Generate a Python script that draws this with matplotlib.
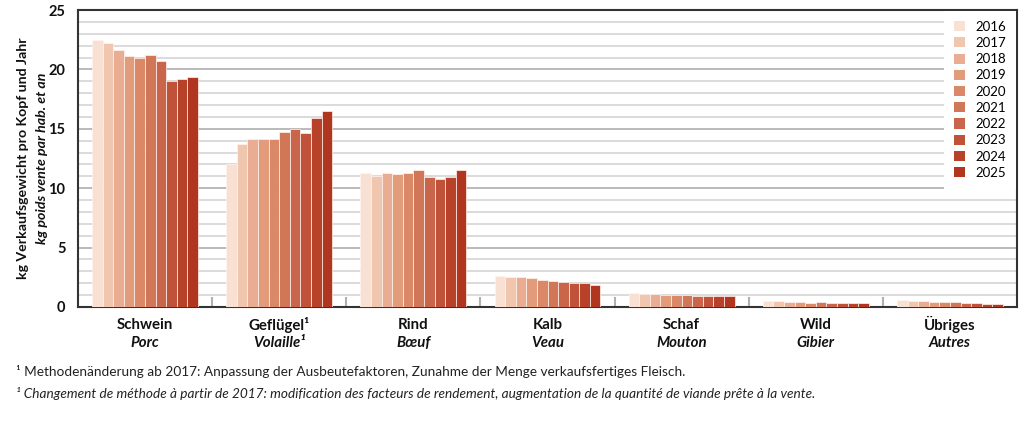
import matplotlib
matplotlib.use("Agg")
import matplotlib.pyplot as plt
from matplotlib.patches import Patch
from matplotlib.ticker import MultipleLocator, FixedLocator
import numpy as np

plt.rcParams['font.family'] = ['Lato', 'DejaVu Sans']

categories_de = ["Schwein", "Geflügel¹", "Rind", "Kalb", "Schaf", "Wild", "Übriges"]
categories_fr = ["Porc", "Volaille¹", "Bœuf", "Veau", "Mouton", "Gibier", "Autres"]
years = ["2016", "2017", "2018", "2019", "2020", "2021", "2022", "2023", "2024", "2025"]

schwein = [22.45, 22.25, 21.6, 21.1, 21.0, 21.2, 20.7, 19.0, 19.2, 19.4]
gefluegel = [12.0, 13.7, 14.15, 14.15, 14.15, 14.75, 15.0, 14.65, 15.9, 16.5]
rind = [11.25, 11.05, 11.3, 11.2, 11.3, 11.55, 10.95, 10.75, 10.95, 11.55]
kalb = [2.65, 2.5, 2.5, 2.4, 2.25, 2.17, 2.1, 2.05, 2.0, 1.85]
schaf = [1.15, 1.13, 1.1, 1.02, 1.04, 1.0, 0.92, 0.92, 0.9, 0.94]
wild = [0.48, 0.5, 0.42, 0.42, 0.37, 0.4, 0.37, 0.34, 0.34, 0.34]
uebriges = [0.56, 0.54, 0.48, 0.45, 0.4, 0.4, 0.37, 0.31, 0.25, 0.23]

colors = ["#f8e0d3", "#f0c6ae", "#e8ad92", "#e29b7b", "#da8868", "#d27658",
          "#c9654a", "#c0523a", "#b8412a", "#b0361f"]

footnote_de = "¹ Methodenänderung ab 2017: Anpassung der Ausbeutefaktoren, Zunahme der Menge verkaufsfertiges Fleisch."
footnote_fr = "¹ Changement de méthode à partir de 2017: modification des facteurs de rendement, augmentation de la quantité de viande prête à la vente."
ylabel_de = "kg Verkaufsgewicht pro Kopf und Jahr"
ylabel_fr = "kg poids vente par hab. et an"

data = np.array([schwein, gefluegel, rind, kalb, schaf, wild, uebriges])  # cat x year

fig = plt.figure(figsize=(10.24, 4.30), dpi=100)
ax = fig.add_axes([78/1024, 1-307/430, (1017-78)/1024, (307-10)/430])

n_years = len(years)
bw = 0.079
x = np.arange(len(categories_de))
for j in range(n_years):
    ax.bar(x + (j - (n_years-1)/2)*bw, data[:, j], width=bw, color=colors[j],
           edgecolor='#fff4ee', linewidth=0.5, zorder=3, label=years[j])

ax.set_xlim(-0.5, len(categories_de)-0.5)
ax.set_ylim(0, 25)
ax.yaxis.set_major_locator(MultipleLocator(5))
ax.yaxis.set_minor_locator(MultipleLocator(1))
ax.grid(axis='y', which='minor', color='#d8d8d8', linewidth=1.3, zorder=0)
ax.grid(axis='y', which='major', color='#b4b4b4', linewidth=1.3, zorder=0)
ax.set_axisbelow(True)

ax.set_xticks(x)
ax.set_xticklabels([])
ax.xaxis.set_minor_locator(FixedLocator(np.arange(0.5, len(categories_de)-0.5, 1)))
ax.tick_params(axis='x', which='major', length=0)
ax.tick_params(axis='x', which='minor', direction='in', length=7, width=1.5, color='#b0b0b0')
ax.tick_params(axis='y', which='both', length=0, pad=9)
for lab in ax.get_yticklabels():
    lab.set_fontweight('bold')
    lab.set_fontsize(10.5)
    lab.set_color('#111111')

for s in ax.spines.values():
    s.set_color('#333333')
    s.set_linewidth(1.5)

for i in range(len(categories_de)):
    ax.text(x[i], -0.06, categories_de[i], transform=ax.get_xaxis_transform(),
            ha='center', va='center', fontsize=10.8, fontweight='bold', color='#111111')
    ax.text(x[i], -0.122, categories_fr[i], transform=ax.get_xaxis_transform(),
            ha='center', va='center', fontsize=10.8, fontweight='bold', style='italic', color='#111111')

fig.text(23/1024, 1-158/430, ylabel_de, rotation=90, ha='center', va='center',
         fontsize=10.2, fontweight='bold', color='#111111')
fig.text(42/1024, 1-158/430, ylabel_fr, rotation=90, ha='center', va='center',
         fontsize=10.2, fontweight='bold', style='italic', color='#111111')

fig.text(16/1024, 1-371/430, footnote_de, ha='left', va='center', fontsize=9.8, color='#222222')
fig.text(16/1024, 1-394/430, footnote_fr, ha='left', va='center', fontsize=9.8,
         style='italic', color='#222222')

handles = [Patch(facecolor=colors[j], edgecolor='none', label=years[j]) for j in range(n_years)]
leg = ax.legend(handles=handles, loc='upper right', bbox_to_anchor=(0.999, 0.997),
                frameon=True, fancybox=False, framealpha=1, facecolor='white',
                edgecolor='none', fontsize=9.5, handlelength=0.8, handleheight=0.8,
                handletextpad=0.8, labelspacing=0.32, borderpad=0.75, borderaxespad=0)
leg.set_zorder(5)

fig.savefig("out.png", dpi=100)
